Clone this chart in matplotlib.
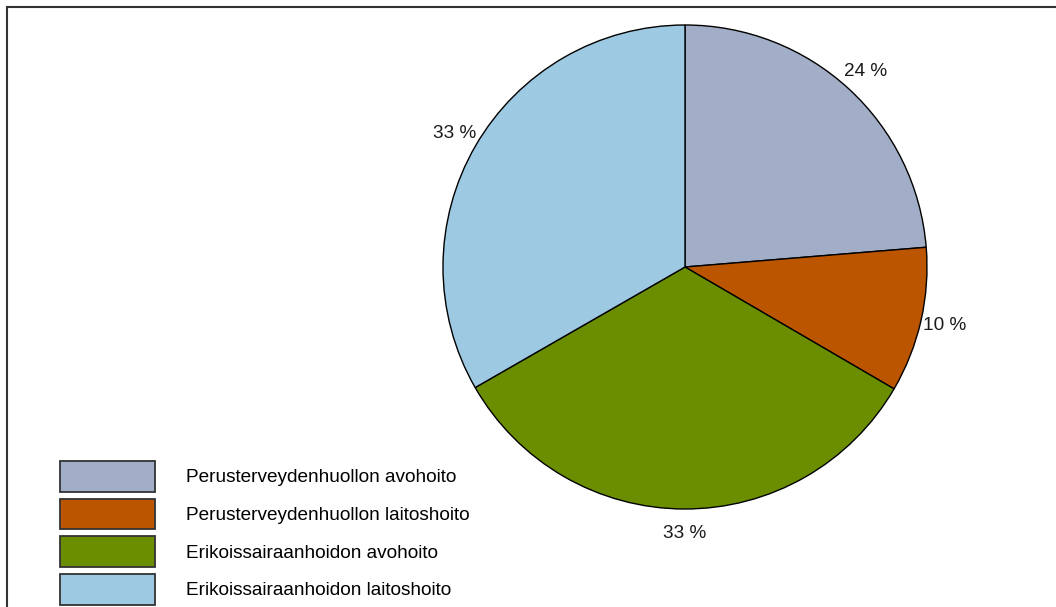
import matplotlib
matplotlib.use("Agg")
import matplotlib.pyplot as plt
from matplotlib.lines import Line2D

plt.rcParams['font.family'] = ['Liberation Sans', 'DejaVu Sans']
plt.rcParams['font.size'] = 13.7

# osuudet (%)
labels = ['Perusterveydenhuollon avohoito', 'Perusterveydenhuollon laitoshoito',
          'Erikoissairaanhoidon avohoito', 'Erikoissairaanhoidon laitoshoito']
values = [23.7, 9.7, 33.3, 33.3]
shown = ['24 %', '10 %', '33 %', '33 %']
colors = ['#A2AEC8', '#BB5500', '#6A8E00', '#9EC9E2']

W, H = 1056, 607
fig = plt.figure(figsize=(W / 100, H / 100), dpi=100)

# pie centre (685,267) px, radius 242 px
cx, cy, r = 685, 267, 242
ax = fig.add_axes([(cx - r) / W, (H - cy - r) / H, 2 * r / W, 2 * r / H])
wedges, texts = ax.pie(values, labels=shown, colors=colors, startangle=90,
                       counterclock=False, labeldistance=1.1,
                       wedgeprops=dict(edgecolor='black', linewidth=1.0),
                       textprops=dict(fontsize=13.7, color='#1a1a1a'))
for t in texts:
    t.set_ha('center')
    t.set_va('center')
ax.set_xlim(-1, 1)
ax.set_ylim(-1, 1)
ax.set_aspect('equal')

# frame lines (left and top)
fig.add_artist(Line2D([7 / W, 7 / W], [0, 1 - 7 / H], transform=fig.transFigure,
                      color='#333333', lw=1.5))
fig.add_artist(Line2D([7 / W, 1], [1 - 7 / H, 1 - 7 / H], transform=fig.transFigure,
                      color='#333333', lw=1.5))

handles = []
for c in colors:
    handles.append(plt.Rectangle((0, 0), 1, 1, facecolor=c, edgecolor='#333333', linewidth=1.3))
fig.legend(handles, labels, loc='upper left', bbox_to_anchor=(60 / W, 1 - 461 / H),
           frameon=False, borderpad=0, borderaxespad=0, handlelength=5.0,
           handleheight=2.1, labelspacing=0.37, handletextpad=1.63, fontsize=13.7)

fig.savefig('out.png', dpi=100)
